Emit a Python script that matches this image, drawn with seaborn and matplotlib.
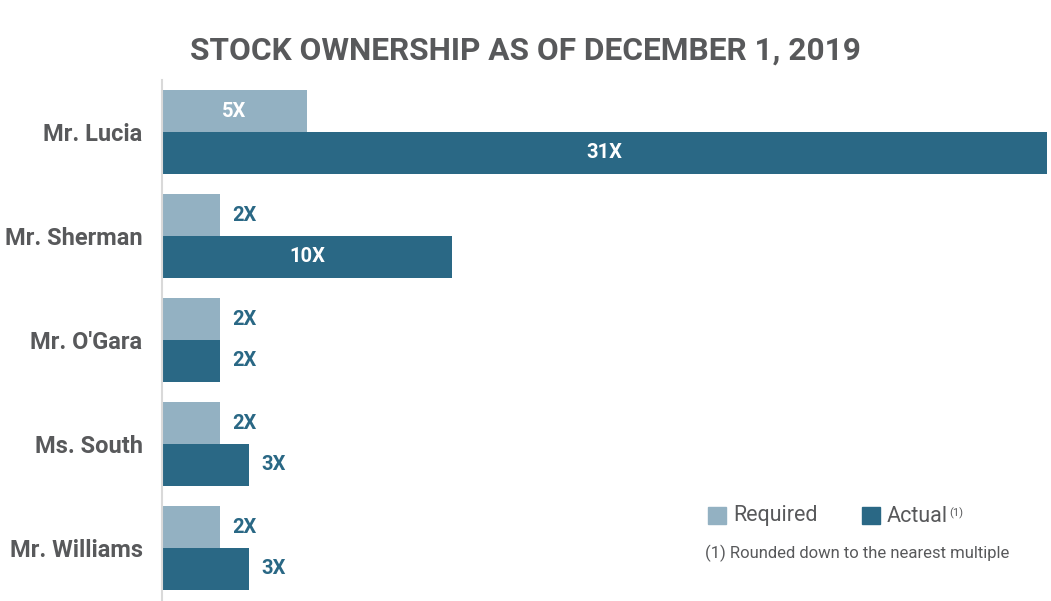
import matplotlib
matplotlib.use("Agg")
import matplotlib.pyplot as plt
import seaborn as sns
import pandas as pd
from matplotlib.patches import Rectangle

names = ["Mr. Lucia", "Mr. Sherman", "Mr. O'Gara", "Ms. South", "Mr. Williams"]
required = [5, 2, 2, 2, 2]
actual = [31, 10, 2, 3, 3]
series = ["Required", "Actual"]
colors = ["#93B1C2", "#2A6885"]
title = "STOCK OWNERSHIP AS OF DECEMBER 1, 2019"
footnote = "(1) Rounded down to the nearest multiple"

df = pd.DataFrame({
    "name": names * 2,
    "value": required + actual,
    "series": [series[0]] * len(names) + [series[1]] * len(names),
})

sns.set_theme(style="white")
plt.rcParams['font.family'] = ['Roboto', 'DejaVu Sans']
gray = "#58595B"

fig = plt.figure(figsize=(10.51, 6.01), dpi=100)
ax = fig.add_axes([162/1051, 1 - 600/601, (1047-162)/1051, (600-80)/601])

sns.barplot(data=df, y="name", x="value", hue="series", order=names,
            hue_order=series, palette=colors, orient="h", width=0.8,
            ax=ax, legend=False, saturation=1, linewidth=0)

xmax = 30.5
ax.set_xlim(0, xmax)
ax.set_ylim(4.5, -0.5)
ax.set_xlabel("")
ax.set_ylabel("")
ax.set_xticks([])
for s in ["top", "right", "bottom"]:
    ax.spines[s].set_visible(False)
ax.spines["left"].set_color("#D9D9D9")
ax.spines["left"].set_linewidth(1.5)
ax.tick_params(axis="y", length=0, pad=14)
for lbl in ax.get_yticklabels():
    lbl.set_fontsize(17)
    lbl.set_fontweight("bold")
    lbl.set_color(gray)

for container in ax.containers:
    for bar in container:
        w = bar.get_width()
        yc = bar.get_y() + bar.get_height() / 2
        txt = f"{int(round(w))}X"
        if w >= 5:
            ax.text(min(w, xmax) / 2, yc, txt, ha="center", va="center",
                    color="white", fontsize=14.5, fontweight="bold")
        else:
            ax.text(w + 0.42, yc, txt, ha="left", va="center", color="#2A6885",
                    fontsize=14.5, fontweight="bold")

fig.text(525/1051, 1 - 51/601, title, ha="center", va="center",
         fontsize=22.8, fontweight="bold", color=gray)

# legend
fig.patches.append(Rectangle((708/1051, 1 - 524/601), 18/1051, 17/601,
                             transform=fig.transFigure, color=colors[0]))
fig.text(733/1051, 1 - 516/601, series[0], ha="left", va="center",
         fontsize=15.5, color=gray)
fig.patches.append(Rectangle((862/1051, 1 - 524/601), 18/1051, 17/601,
                             transform=fig.transFigure, color=colors[1]))
t_act = fig.text(887/1051, 1 - 516/601, series[1], ha="left", va="center",
                 fontsize=15.5, color=gray)
ax.annotate("(1)", xy=(1.0, 0.92), xycoords=t_act, xytext=(0.5, 0),
            textcoords="offset points", ha="left", va="top",
            fontsize=8, color=gray, annotation_clip=False)
fig.text(705/1051, 1 - 553/601, footnote, ha="left", va="center",
         fontsize=12, color=gray)

fig.savefig("out.png", dpi=100)
